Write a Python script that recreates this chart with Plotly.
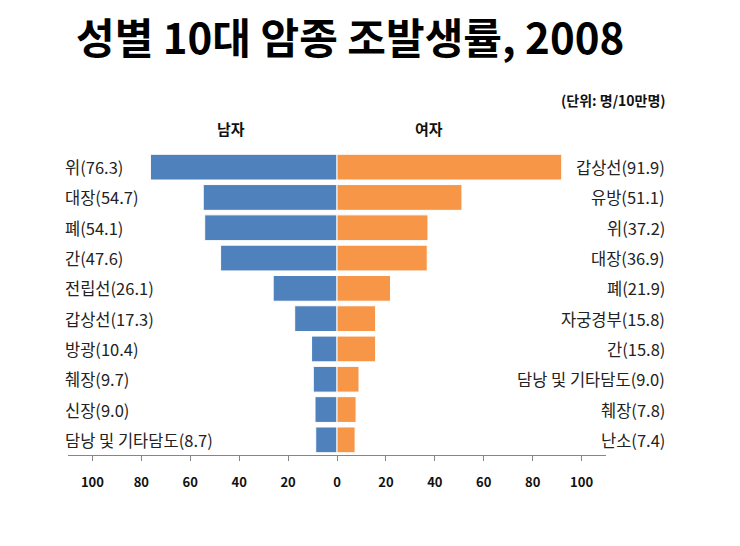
import plotly.graph_objects as go

male_names = ["위", "대장", "폐", "간", "전립선", "갑상선", "방광", "췌장", "신장", "담낭 및 기타담도"]
male_values = [76.3, 54.7, 54.1, 47.6, 26.1, 17.3, 10.4, 9.7, 9.0, 8.7]
female_names = ["갑상선", "유방", "위", "대장", "폐", "자궁경부", "간", "담낭 및 기타담도", "췌장", "난소"]
female_values = [91.9, 51.1, 37.2, 36.9, 21.9, 15.8, 15.8, 9.0, 7.8, 7.4]
tick_vals = [-100, -80, -60, -40, -20, 0, 20, 40, 60, 80, 100]
tick_text = ["100", "80", "60", "40", "20", "0", "20", "40", "60", "80", "100"]

FONT = "Noto Sans CJK KR"
rows = list(range(len(male_values)))

fig = go.Figure()
fig.add_trace(go.Bar(
    y=rows, x=[-v for v in male_values], orientation="h",
    marker=dict(color="#4F81BD", line=dict(color="white", width=1)),
    name="남자", hoverinfo="skip",
))
fig.add_trace(go.Bar(
    y=rows, x=female_values, orientation="h",
    marker=dict(color="#F79646", line=dict(color="white", width=1)),
    name="여자", hoverinfo="skip",
))

annotations = []
for i, (n, v) in enumerate(zip(male_names, male_values)):
    annotations.append(dict(
        x=-0.009, xref="paper", y=i, yref="y", text=f"{n}({v:.1f})",
        xanchor="left", yanchor="middle", showarrow=False,
        font=dict(family=FONT, size=16.5, color="#222222"),
    ))
for i, (n, v) in enumerate(zip(female_names, female_values)):
    annotations.append(dict(
        x=1.113, xref="paper", y=i, yref="y", text=f"{n}({v:.1f})",
        xanchor="right", yanchor="middle", showarrow=False,
        font=dict(family=FONT, size=16.5, color="#222222"),
    ))
annotations += [
    dict(x=0.303, xref="paper", y=1.079, yref="paper", text="<b>남자</b>",
         showarrow=False, xanchor="center", yanchor="middle",
         font=dict(family=FONT, size=15, color="#111111")),
    dict(x=0.671, xref="paper", y=1.079, yref="paper", text="<b>여자</b>",
         showarrow=False, xanchor="center", yanchor="middle",
         font=dict(family=FONT, size=15, color="#111111")),
    dict(x=1.115, xref="paper", y=1.172, yref="paper", text="<b>(단위: 명/10만명)</b>",
         showarrow=False, xanchor="right", yanchor="middle",
         font=dict(family=FONT, size=14, color="#111111")),
    dict(x=(350 - 68) / 538, xref="paper", y=1 + (152 - 35) / 303, yref="paper",
         text="<b>성별 10대 암종 조발생률, 2008</b>",
         showarrow=False, xanchor="center", yanchor="middle",
         font=dict(family=FONT, size=42, color="black")),
]

fig.update_layout(
    width=740, height=546,
    margin=dict(l=68, r=134, t=152, b=91),
    paper_bgcolor="white", plot_bgcolor="white",
    barmode="overlay", bargap=0.15, showlegend=False,
    annotations=annotations,
    xaxis=dict(range=[-110, 110], tickvals=tick_vals, ticktext=tick_text,
               showgrid=False, zeroline=False, showline=True, linecolor="#868686",
               linewidth=1, ticks="outside", ticklen=5, tickcolor="#868686",
               ticklabelstandoff=10,
               tickfont=dict(family=FONT, size=13, color="#111111", weight="bold")),
    yaxis=dict(range=[9.5, -0.5], showgrid=False, zeroline=False, showline=False,
               showticklabels=False, ticks=""),
)

fig.write_html("out.html")
